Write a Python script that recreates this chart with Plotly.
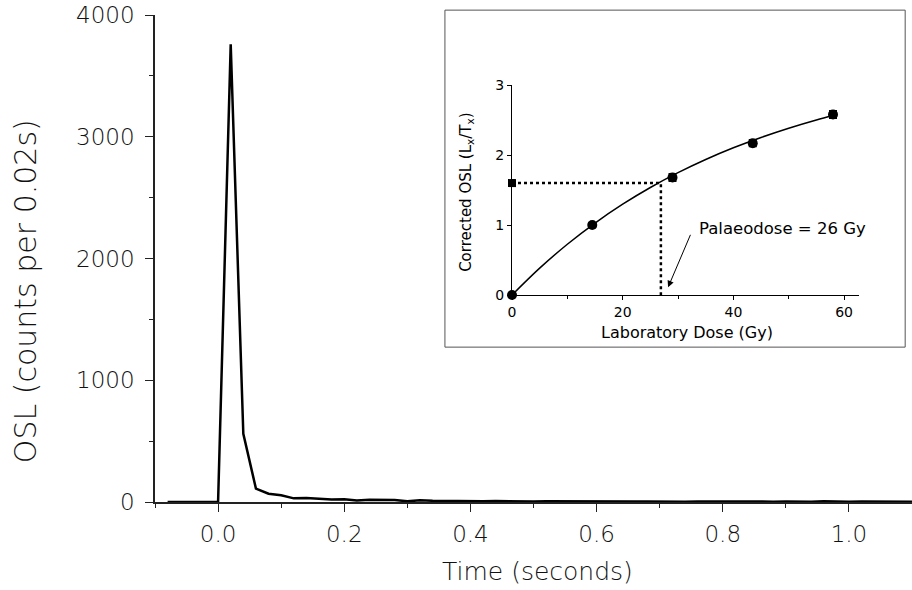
import plotly.graph_objects as go

# ---- main OSL decay curve ----
osl_counts = [0, 0, 0, 0, 0, 3760, 560, 110, 68, 55,
              30, 32, 26, 20, 22, 12, 18, 17, 16, 6,
              14, 10, 8, 9, 7, 6, 8, 5, 7, 4,
              6, 5, 8, 9, 5, 3, 6, 4, 5, 3,
              4, 2, 5, 4, 8, 3, 2, 4, 3, 5,
              2, 3, 6, 3, 2, 4, 3, 2, 3, 2]
time_s = [round(-0.08 + 0.02 * i, 2) for i in range(len(osl_counts))]

main_xticks = [0.0, 0.2, 0.4, 0.6, 0.8, 1.0]
main_yticks = [0, 1000, 2000, 3000, 4000]

# ---- inset: dose response ----
dose_gy = [0, 14.5, 29, 43.5, 58]
lx_tx = [0, 1.0, 1.68, 2.17, 2.58]
lx_err = [0.02, 0.03, 0.05, 0.045, 0.05]

natural_dose = [0]
natural_lx = [1.6]
natural_err = [0.04]

curve_dose = [0, 5, 10, 15, 20, 25, 30, 35, 40, 45, 50, 55, 58]
curve_lx = [0, 0.384, 0.726, 1.029, 1.298, 1.537, 1.749, 1.937, 2.104, 2.252, 2.384, 2.502, 2.565]

palaeo_dose = 26.9
palaeo_lx = 1.6

FONT_MAIN = "'DejaVu Sans', Lato, sans-serif"
FONT_INSET = "'DejaVu Sans', 'Liberation Sans', sans-serif"
MAIN_FONT = dict(family=FONT_MAIN, size=23, color="#111", weight=200)

fig = go.Figure()

fig.add_trace(go.Scatter(x=time_s, y=osl_counts, mode="lines",
                         line=dict(color="black", width=2.5),
                         xaxis="x", yaxis="y", showlegend=False))

# inset dotted lines
fig.add_trace(go.Scatter(x=[0, palaeo_dose, palaeo_dose], y=[palaeo_lx, palaeo_lx, 0],
                         mode="lines", line=dict(color="black", width=2.5, dash="dot"),
                         xaxis="x2", yaxis="y2", showlegend=False))
# fitted curve
fig.add_trace(go.Scatter(x=curve_dose, y=curve_lx, mode="lines", line=dict(color="black", width=1.5, shape="spline"),
                         xaxis="x2", yaxis="y2", showlegend=False))
# regenerated points
fig.add_trace(go.Scatter(x=dose_gy, y=lx_tx, mode="markers",
                         marker=dict(color="black", size=10, symbol="circle"),
                         error_y=dict(type="data", array=lx_err, color="black", thickness=2, width=4),
                         xaxis="x2", yaxis="y2", showlegend=False, cliponaxis=False))
# natural
fig.add_trace(go.Scatter(x=natural_dose, y=natural_lx, mode="markers",
                         marker=dict(color="black", size=8, symbol="square"),
                         error_y=dict(type="data", array=natural_err, color="black", thickness=2, width=3),
                         xaxis="x2", yaxis="y2", showlegend=False, cliponaxis=False))

axis_col = "#222"
inset_tick_font = dict(family=FONT_INSET, size=14, color="black")
fig.update_layout(
    width=912, height=590,
    margin=dict(l=155, r=0, t=15, b=88),
    paper_bgcolor="white", plot_bgcolor="white",
    xaxis=dict(domain=[0, 1], range=[-0.1, 1.1], tickvals=main_xticks, tickformat=".1f",
               showgrid=False, zeroline=False, showline=True, linecolor=axis_col, linewidth=1.5,
               ticks="outside", ticklen=8, tickwidth=1, tickcolor=axis_col,
               minor=dict(dtick=0.1, tick0=0, ticks="outside", ticklen=4, tickcolor=axis_col),
               ticklabelstandoff=3,
               tickfont=MAIN_FONT, anchor="y"),
    yaxis=dict(domain=[0, 1], range=[0, 4000], tickvals=main_yticks,
               showgrid=False, zeroline=False, showline=True, linecolor=axis_col, linewidth=1.5,
               ticks="outside", ticklen=8, tickwidth=1, tickcolor=axis_col,
               minor=dict(dtick=500, tick0=0, ticks="outside", ticklen=4, tickcolor=axis_col),
               ticklabelstandoff=6,
               tickfont=MAIN_FONT, anchor="x"),
    xaxis2=dict(domain=[0.4716, 0.930], range=[0, 62.7], tickvals=[0, 20, 40, 60],
                showgrid=False, zeroline=False, showline=True, linecolor="black", linewidth=1,
                ticks="outside", ticklen=4, tickcolor="black",
                minor=dict(dtick=10, tick0=0, ticks="outside", ticklen=3, tickcolor="black"),
                tickfont=inset_tick_font, anchor="y2"),
    yaxis2=dict(domain=[0.425, 0.856], range=[0, 3], tickvals=[0, 1, 2, 3],
                showgrid=False, zeroline=False, showline=True, linecolor="black", linewidth=1,
                ticks="outside", ticklen=4, tickcolor="black",
                tickfont=inset_tick_font, anchor="x2"),
    shapes=[dict(type="rect", xref="paper", yref="paper", x0=0.383, x1=0.991, y0=0.318, y1=1.010,
                 line=dict(color="#555", width=1), fillcolor="rgba(0,0,0,0)", layer="below")],
    annotations=[
        dict(text="OSL (counts per 0.02s)", xref="paper", yref="paper", x=-0.1717, y=0.433,
             textangle=-90, showarrow=False, xanchor="center", yanchor="middle",
             font=dict(family=FONT_MAIN, size=30, color="#111", weight=200)),
        dict(text="Time (seconds)", xref="paper", yref="paper", x=0.505, y=-0.1417,
             showarrow=False, xanchor="center", yanchor="middle",
             font=dict(family=FONT_MAIN, size=25, color="#111", weight=200)),
        dict(text="Corrected OSL (L<sub>x</sub>/T<sub>x</sub>)", xref="paper", yref="paper",
             x=0.412, y=0.6366, textangle=-90, showarrow=False, xanchor="center", yanchor="middle",
             font=dict(family=FONT_INSET, size=15, color="black")),
        dict(text="Laboratory Dose (Gy)", xref="paper", yref="paper", x=0.7024, y=0.349,
             showarrow=False, xanchor="center", yanchor="middle",
             font=dict(family=FONT_INSET, size=16, color="black")),
        dict(text="Palaeodose = 26 Gy", xref="x2", yref="y2", x=33.4, y=0.957,
             showarrow=False, xanchor="left", yanchor="middle",
             font=dict(family=FONT_INSET, size=16.5, color="black")),
        dict(text="", xref="x2", yref="y2", x=28.2, y=0.11, ax=23, ay=-54,
             showarrow=True, arrowhead=2, arrowsize=1.3, arrowwidth=1, arrowcolor="black"),
    ],
)

fig.write_html("out.html", config={"displayModeBar": False},
               post_script="document.body.style.margin='0';document.body.style.overflow='hidden';")
